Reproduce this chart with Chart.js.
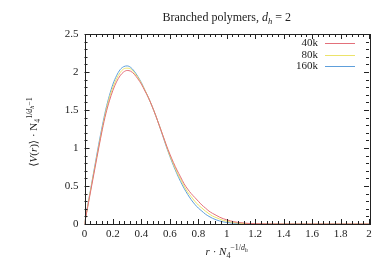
<!DOCTYPE html>
<html>
<head>
<meta charset="utf-8">
<script src="https://cdn.jsdelivr.net/npm/chart.js@4.4.1/dist/chart.umd.min.js"></script>
<style>
html,body{margin:0;padding:0;background:#fff;}
#wrap{width:387px;height:262px;position:relative;}
</style>
</head>
<body>
<div id="wrap"><canvas id="c" width="387" height="262"></canvas></div>
<script>
const xs = [0,0.025,0.05,0.075,0.1,0.125,0.15,0.175,0.2,0.225,0.25,0.275,0.3,0.325,0.35,0.375,0.4,0.425,0.45,0.475,0.5,0.525,0.55,0.575,0.6,0.625,0.65,0.675,0.7,0.725,0.75,0.775,0.8,0.825,0.85,0.875,0.9,0.925,0.95,0.975,1.0,1.05,1.1,1.15,1.2,1.3,1.4,1.5,1.6,1.7,1.8,1.9,2.0];
const y40k = [0,0.25,0.5,0.75,1.0,1.24,1.45,1.62,1.76,1.87,1.95,2.0,2.02,2.01,1.97,1.91,1.84,1.75,1.66,1.55,1.43,1.30,1.17,1.04,0.92,0.81,0.71,0.62,0.53,0.46,0.40,0.35,0.30,0.25,0.21,0.17,0.14,0.115,0.09,0.07,0.055,0.03,0.017,0.008,0.004,0.001,0,0,0,0,0,0,0];
const y80k = [0,0.26,0.52,0.77,1.02,1.26,1.48,1.66,1.80,1.91,1.99,2.04,2.05,2.04,1.99,1.93,1.85,1.76,1.66,1.55,1.43,1.30,1.17,1.03,0.90,0.79,0.68,0.59,0.50,0.42,0.36,0.30,0.25,0.21,0.17,0.135,0.105,0.085,0.065,0.048,0.036,0.018,0.009,0.004,0.002,0,0,0,0,0,0,0,0];
const y160k = [0,0.27,0.53,0.79,1.05,1.29,1.51,1.69,1.84,1.95,2.03,2.07,2.08,2.06,2.01,1.94,1.86,1.76,1.66,1.55,1.43,1.30,1.16,1.02,0.89,0.77,0.66,0.56,0.47,0.39,0.32,0.26,0.21,0.17,0.13,0.10,0.075,0.055,0.04,0.028,0.02,0.01,0.005,0.002,0.001,0,0,0,0,0,0,0,0];
const seriesNames = ['40k','80k','160k'];
const seriesColors = ['#e3707a','#ece36a','#5e9fdb'];
const xTicks = [0,0.2,0.4,0.6,0.8,1,1.2,1.4,1.6,1.8,2];
const yTicks = [0,0.5,1,1.5,2,2.5];

const SERIF = '"Liberation Serif","DejaVu Serif",serif';
const INK = '#222';

function pts(ys){ return xs.map((x,i)=>({x:x,y:ys[i]})); }

function fontFor(s,size){
  let sz = size;
  if(s.lv==='s'||s.lv==='p') sz = size*0.72;
  if(s.lv==='ps') sz = size*0.55;
  return (s.it?'italic ':'') + sz.toFixed(1)+'px '+SERIF;
}
function shiftFor(s,size){
  if(s.lv==='s') return size*0.25;
  if(s.lv==='p') return -size*0.42;
  if(s.lv==='ps') return -size*0.28;
  return 0;
}
function richWidth(ctx, segs, size){
  let w=0;
  for(const s of segs){ ctx.font = fontFor(s,size); w += ctx.measureText(s.t).width; }
  return w;
}
function drawRich(ctx, segs, size, cx, by){
  const w = richWidth(ctx,segs,size);
  let x = cx - w/2;
  ctx.textAlign='left'; ctx.textBaseline='alphabetic';
  for(const s of segs){
    ctx.font = fontFor(s,size);
    ctx.fillText(s.t, x, by + shiftFor(s,size));
    x += ctx.measureText(s.t).width;
  }
}

const titleSegs = [{t:'Branched polymers, '},{t:'d',it:1},{t:'h',it:1,lv:'s'},{t:' = 2'}];
const xTitleSegs = [{t:'r',it:1},{t:' · '},{t:'N',it:1},{t:'4',lv:'s'},{t:'−1/',lv:'p'},{t:'d',it:1,lv:'p'},{t:'h',it:1,lv:'ps'}];
const yTitleSegs = [{t:'⟨'},{t:'V',it:1},{t:'('},{t:'r',it:1},{t:')⟩ · N'},{t:'4',lv:'s'},{t:'1/',lv:'p'},{t:'d',it:1,lv:'p'},{t:'h',it:1,lv:'ps'},{t:'−1',lv:'p'}];

const decor = {
  id:'decor',
  afterDraw(chart){
    const ctx = chart.ctx, a = chart.chartArea;
    const xs_ = chart.scales.x, ys_ = chart.scales.y;
    ctx.save();
    ctx.strokeStyle = INK; ctx.lineWidth = 1;
    ctx.strokeRect(Math.round(a.left)+0.5, Math.round(a.top)+0.5, Math.round(a.right-a.left), Math.round(a.bottom-a.top));
    ctx.beginPath();
    for(let i=0;i<=50;i++){
      const v = i*0.04; const px = Math.round(xs_.getPixelForValue(v))+0.5;
      const L = (i%5===0)?5:3;
      ctx.moveTo(px, a.bottom); ctx.lineTo(px, a.bottom-L);
      ctx.moveTo(px, a.top); ctx.lineTo(px, a.top+L);
    }
    for(let i=0;i<=25;i++){
      const v = i*0.1; const py = Math.round(ys_.getPixelForValue(v))+0.5;
      const L = (i%5===0)?5:3;
      ctx.moveTo(a.left, py); ctx.lineTo(a.left+L, py);
      ctx.moveTo(a.right, py); ctx.lineTo(a.right-L, py);
    }
    ctx.stroke();
    ctx.fillStyle = INK;
    drawRich(ctx, titleSegs, 12, (a.left+a.right)/2, 21);
    drawRich(ctx, xTitleSegs, 11, (a.left+a.right)/2, 255);
    ctx.save();
    ctx.translate(37, 132);
    ctx.rotate(-Math.PI/2);
    drawRich(ctx, yTitleSegs, 11, 0, 0);
    ctx.restore();
    const rows = [43,55,66];
    for(let k=0;k<3;k++){
      ctx.font = '11px '+SERIF; ctx.textAlign='right'; ctx.textBaseline='middle';
      ctx.fillStyle = INK;
      ctx.fillText(seriesNames[k], 318, rows[k]);
      ctx.strokeStyle = seriesColors[k]; ctx.lineWidth = 1;
      ctx.beginPath(); ctx.moveTo(325, rows[k]+0.5); ctx.lineTo(355, rows[k]+0.5); ctx.stroke();
    }
    ctx.restore();
  }
};

new Chart(document.getElementById('c'), {
  type:'line',
  data:{
    datasets:[
      {label:seriesNames[0], data:pts(y40k), borderColor:seriesColors[0]},
      {label:seriesNames[1], data:pts(y80k), borderColor:seriesColors[1]},
      {label:seriesNames[2], data:pts(y160k), borderColor:seriesColors[2]}
    ].map(d=>Object.assign(d,{borderWidth:1,pointRadius:0,fill:false,cubicInterpolationMode:'monotone'}))
  },
  options:{
    responsive:false, animation:false,
    layout:{padding:{left:0,right:18,top:34,bottom:0}},
    plugins:{legend:{display:false},title:{display:false},tooltip:{enabled:false}},
    scales:{
      x:{type:'linear',min:0,max:2,
        afterBuildTicks(s){ s.ticks = xTicks.map(v=>({value:v})); },
        afterFit(s){ s.height = 38; },
        grid:{display:false,drawTicks:false}, border:{display:false},
        ticks:{color:INK,font:{family:SERIF,size:11},padding:4,maxRotation:0,autoSkip:false,
          callback:(v)=>String(+v.toFixed(1))}
      },
      y:{type:'linear',min:0,max:2.5,
        afterBuildTicks(s){ s.ticks = yTicks.map(v=>({value:v})); },
        afterFit(s){ s.width = 84.5; },
        grid:{display:false,drawTicks:false}, border:{display:false},
        ticks:{color:INK,font:{family:SERIF,size:11},padding:6,autoSkip:false,
          callback:(v)=>String(+v.toFixed(1))}
      }
    }
  },
  plugins:[decor]
});
</script>
</body>
</html>
